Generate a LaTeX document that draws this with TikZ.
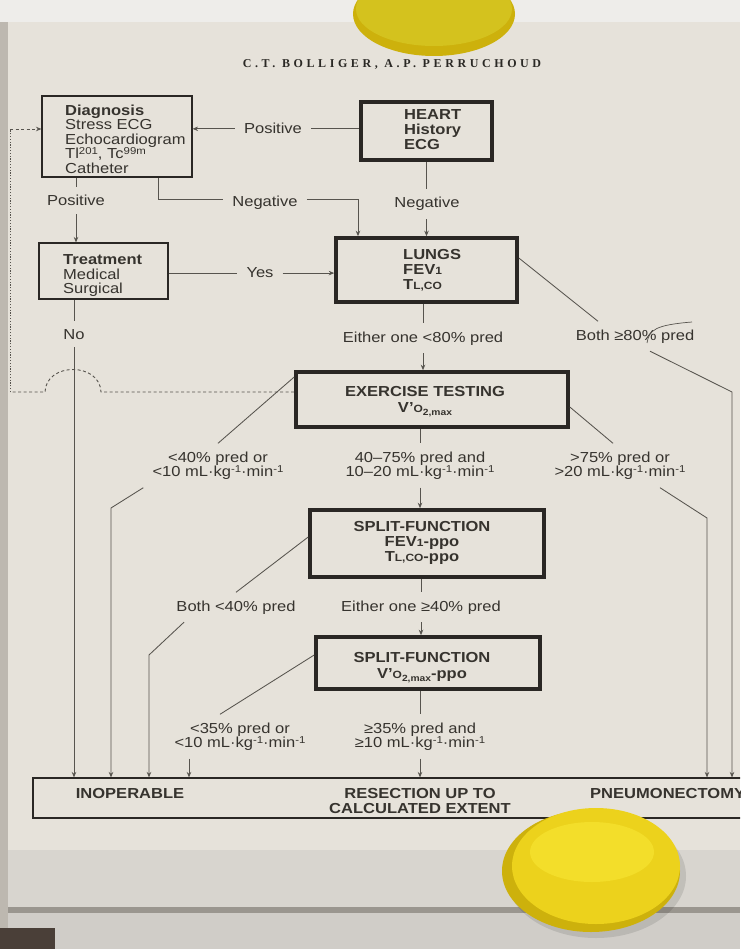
\documentclass[tikz,border=0pt]{standalone}
\usepackage{fontspec}
\setmainfont{Liberation Sans}[FakeStretch=1.14]
\newfontfamily\hdrfont{Liberation Serif}[LetterSpace=30]
\usetikzlibrary{arrows.meta}
\definecolor{ink}{HTML}{36332E}
\definecolor{linec}{HTML}{57544E}
\definecolor{boxc}{HTML}{2A2724}
\definecolor{paper}{HTML}{E6E2DA}
\definecolor{wall}{HTML}{EEEDEA}
\definecolor{framec}{HTML}{D8D5CF}
\definecolor{edgec}{HTML}{9A968F}
\definecolor{trayc}{HTML}{D0CDC8}
\definecolor{leftc}{HTML}{BDB8B0}
\definecolor{darkc}{HTML}{4A3F38}
\definecolor{magA}{HTML}{ECD21C}
\definecolor{magB}{HTML}{F3DE2A}
\definecolor{magC}{HTML}{CDB10C}
\definecolor{magT}{HTML}{D4C21E}
\newcommand\smtxt[1]{{\fontsize{10.5}{10.5}\selectfont #1}}
\newcommand\subtxt[1]{\smash{\raisebox{-2.5pt}{\fontsize{9}{9}\selectfont #1}}}
\newcommand\supx[1]{\smash{\raisebox{4.5pt}{\fontsize{10}{10}\selectfont #1}}}
\newcommand\mlkg{mL·kg\supx{-1}·min\supx{-1}}
\begin{document}
\begin{tikzpicture}[x=1pt,y=-1pt,
  every node/.style={inner sep=0pt, text=ink, font=\fontsize{14.5}{14.5}\selectfont},
  thinbox/.style={draw=boxc, line width=1.1pt},
  thickbox/.style={draw=boxc, line width=3.6pt},
  lbl/.style={inner xsep=9pt, inner ysep=8pt, align=center},
  conn/.style={draw=linec, line width=0.85pt},
  arr/.style={conn, -{Stealth[length=5.5pt,width=4.5pt]}},
  dashln/.style={draw=linec, line width=0.9pt, dash pattern=on 3pt off 2.5pt},
  dotln/.style={draw=linec, line width=1pt, dash pattern=on 1.2pt off 1.6pt}]
\useasboundingbox (0,0) rectangle (740,949);
\clip (0,0) rectangle (740,949);
% background (photo)
\fill[framec] (0,0) rectangle (740,949);
\fill[wall] (0,0) rectangle (740,22);
\fill[leftc] (0,22) rectangle (8,949);
\fill[paper] (8,22) rectangle (740,850);
\fill[edgec] (8,907) rectangle (740,913);
\fill[trayc] (8,913) rectangle (740,949);
\fill[darkc] (0,928) rectangle (55,949);
% header
\node[font=\hdrfont\bfseries\fontsize{12}{12}\selectfont, text=ink!80!black] (hdr) at (392,64) {C.T. BOLLIGER, A.P. PERRUCHOUD};
% boxes
\node[thinbox, minimum width=150pt, minimum height=81pt] (diag) at (117,136.5) {};
\node[thickbox, minimum width=131pt, minimum height=58pt] (heart) at (426.5,131) {};
\node[thinbox, minimum width=129pt, minimum height=56pt] (treat) at (103.5,271) {};
\node[thickbox, minimum width=181pt, minimum height=64pt] (lungs) at (426.5,270) {};
\node[thickbox, minimum width=272pt, minimum height=55pt] (ex) at (432,399.5) {};
\node[thickbox, minimum width=234pt, minimum height=67pt] (sp1) at (427,543.5) {};
\node[thickbox, minimum width=224pt, minimum height=52pt] (sp2) at (428,663) {};
\node[thinbox, minimum width=737pt, minimum height=40pt] (bot) at (401.5,798) {};
% box texts
\node[anchor=north west, align=left] (diagT) at (65,104.6) {\textbf{Diagnosis}\\Stress ECG\\Echocardiogram\\Tl\supx{201}, Tc\supx{99m}\\Catheter};
\node[anchor=north west, align=left, font=\fontsize{14.5}{15}\selectfont\bfseries] (heartT) at (404,109.6) {HEART\\History\\ECG};
\node[anchor=north west, align=left] (treatT) at (63,254.6) {\textbf{Treatment}\\Medical\\Surgical};
\node[anchor=north west, align=left, font=\fontsize{14.5}{15}\selectfont\bfseries] (lungsT) at (403,249.6) {LUNGS\\FEV\smtxt{1}\\T\smtxt{L,CO}};
\node[anchor=north, align=center, font=\fontsize{14.5}{16}\selectfont\bfseries] (exT) at (425,386.6) {EXERCISE TESTING\\V'\smtxt{O}\subtxt{2,max}};
\node[anchor=north, align=center, font=\fontsize{14.5}{15}\selectfont\bfseries] (sp1T) at (422,521.6) {SPLIT-FUNCTION\\FEV\smtxt{1}-ppo\\T\smtxt{L,CO}-ppo};
\node[anchor=north, align=center, font=\fontsize{14.5}{16}\selectfont\bfseries] (sp2T) at (422,652.6) {SPLIT-FUNCTION\\V'\smtxt{O}\subtxt{2,max}-ppo};
\node[anchor=base, font=\fontsize{14.5}{14.5}\selectfont\bfseries] (inopT) at (130,798) {INOPERABLE};
\node[anchor=north, align=center, font=\fontsize{14.5}{14.5}\selectfont\bfseries] (resT) at (420,788.6) {RESECTION UP TO\\CALCULATED EXTENT};
\node[anchor=base west, font=\fontsize{14.5}{14.5}\selectfont\bfseries] (pneuT) at (590,798) {PNEUMONECTOMY};
% labels
\node[lbl, anchor=base] (posL) at (273,134) {Positive};
\node[lbl, anchor=base] (posL2) at (76,206) {Positive};
\node[lbl, anchor=base] (negL) at (265,207) {Negative};
\node[lbl, anchor=base] (negH) at (427,208) {Negative};
\node[lbl, anchor=base] (yesL) at (260,278) {Yes};
\node[lbl, anchor=base] (noL) at (74,339) {No};
\node[lbl, anchor=base] (e80) at (423,342) {Either one <80\% pred};
\node[lbl, anchor=base] (b80) at (635,340) {Both ≥80\% pred};
\node[lbl] (lt40) at (218,465.5) {<40\% pred or\\<10 \mlkg};
\node[lbl] (m40) at (420,465.5) {40–75\% pred and\\10–20 \mlkg};
\node[lbl] (gt75) at (620,465.5) {>75\% pred or\\>20 \mlkg};
\node[lbl, anchor=base] (b40) at (236,611) {Both <40\% pred};
\node[lbl, anchor=base] (e40) at (421,611) {Either one ≥40\% pred};
\node[lbl] (lt35) at (240,736.5) {<35\% pred or\\<10 \mlkg};
\node[lbl] (ge35) at (420,736.5) {≥35\% pred and\\≥10 \mlkg};
% connectors
\draw[conn] (heart.west |- posL.east) -- (posL.east);
\draw[arr] (posL.west) -- (diag.east |- posL.west);
\draw[conn] (diag.south -| posL2.north) -- (posL2.north);
\draw[arr] (posL2.south) -- (treat.north -| posL2.south);
\draw[conn] ([xshift=41pt]diag.south) |- ([yshift=4pt]negL.west);
\draw[arr] ([yshift=4pt]negL.east) -| ([xshift=-68.5pt]lungs.north);
\draw[conn] (heart.south) -- (heart.south |- negH.north);
\draw[arr] (heart.south |- negH.south) -- (lungs.north);
\draw[conn] (treat.east |- yesL.west) -- (yesL.west);
\draw[arr] (yesL.east) -- (lungs.west |- yesL.east);
\draw[conn] (treat.south -| noL.north) -- (noL.north);
\draw[arr] (noL.south) -- (bot.north -| noL.south);
\draw[conn] (lungs.south -| e80.north) -- (e80.north);
\draw[arr] (e80.south) -- (ex.north -| e80.south);
\draw[conn] ([yshift=12pt]lungs.east) -- ([xshift=-37pt]b80.north);
\coordinate (bR) at (732,392);
\draw[arr] ([xshift=15pt]b80.south) -- (bR) -- (bot.north -| bR);
\draw[conn] (ex.south -| m40.north) -- (m40.north);
\draw[arr] (m40.south) -- (sp1.north -| m40.south);
\draw[conn] ([yshift=22.5pt]ex.west) -- (lt40.north);
\coordinate (cL1) at (111,508);
\draw[arr] (lt40.south west) -- (cL1) -- (bot.north -| cL1);
\draw[conn] ([yshift=-7.5pt]ex.east) -- ([xshift=-7pt]gt75.north);
\coordinate (cR1) at (707,518);
\draw[arr] ([xshift=40pt]gt75.south) -- (cR1) -- (bot.north -| cR1);
\draw[conn] ([yshift=6.5pt]sp1.west) -- (b40.north);
\coordinate (cL2) at (149,655);
\draw[arr] ([xshift=-52pt]b40.south) -- (cL2) -- (bot.north -| cL2);
\draw[conn] (sp1.south -| e40.north) -- (e40.north);
\draw[arr] (e40.south) -- (sp2.north -| e40.south);
\draw[conn] ([yshift=8pt]sp2.west) -- ([xshift=-20pt]lt35.north);
\draw[arr] ([xshift=-51pt]lt35.south) -- ([xshift=-51pt]lt35.south |- bot.north);
\draw[conn] (sp2.south -| ge35.north) -- (ge35.north);
\draw[arr] (ge35.south) -- (bot.north -| ge35.south);
% dashed feedback from exercise testing to diagnosis
\coordinate (dA) at (101,392);
\coordinate (dB) at (45,392);
\coordinate (dC) at (10,392);
\coordinate (dD) at (10,129);
\draw[dashln] ([yshift=7.5pt]ex.west) -- (dA) .. controls (100,362) and (46,362) .. (dB) -- (dC);
\draw[dotln] (dC) -- (dD);
\draw[dashln, -{Stealth[length=5.5pt,width=4.5pt]}] (dD) -- (diag.west |- dD);
% pen mark over "80% pred"
\draw[conn, line width=0.7pt] (647,343) .. controls (649,330) and (655,325) .. (692,322);
% magnets
\fill[magC] (434,14) ellipse [x radius=81pt, y radius=42pt];
\fill[magT] (434,9) ellipse [x radius=78pt, y radius=37pt];
\fill[black, opacity=0.10] (596,876) ellipse [x radius=90pt, y radius=62pt];
\fill[magC] (591,871) ellipse [x radius=89pt, y radius=61pt];
\fill[magA] (596,866) ellipse [x radius=84pt, y radius=58pt];
\fill[magB] (592,852) ellipse [x radius=62pt, y radius=30pt];
\end{tikzpicture}
\end{document}
